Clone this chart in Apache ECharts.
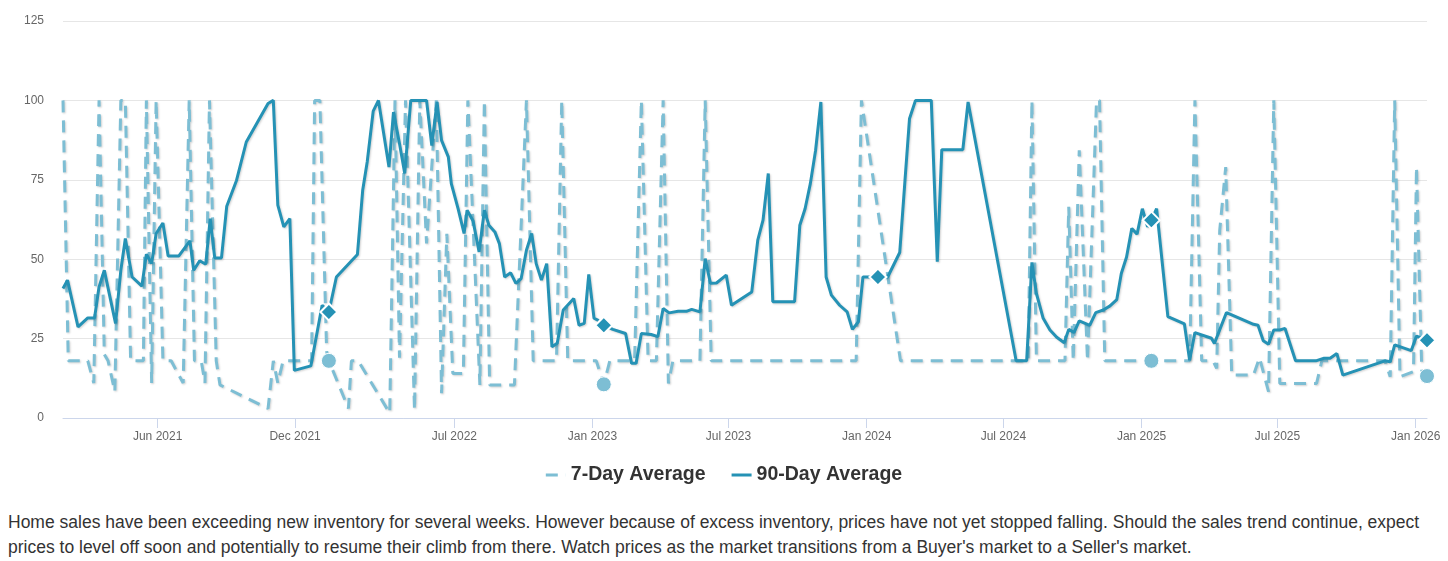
<!DOCTYPE html>
<html>
<head>
<meta charset="utf-8">
<script src="https://cdn.jsdelivr.net/npm/echarts@6/dist/echarts.min.js"></script>
<style>
  html, body { margin: 0; padding: 0; background: #fff; }
  #chart { width: 1448px; height: 500px; }
  #note { margin: 10px 8px 0 8px; font-family: 'Liberation Sans', Arial, sans-serif; font-size: 17.5px; line-height: 25px; color: #333; }
</style>
</head>
<body>
<div id="chart"></div>
<div id="note">Home sales have been exceeding new inventory for several weeks. However because of excess inventory, prices have not yet stopped falling. Should the sales trend continue, expect prices to level off soon and potentially to resume their climb from there. Watch prices as the market transitions from a Buyer's market to a Seller's market.</div>
<script>
// ---- data ----
const seriesNames = ['7-Day Average', '90-Day Average'];

const dates7 = ['2021-01-26','2021-02-02','2021-02-28','2021-03-08','2021-03-15','2021-03-22','2021-03-27','2021-04-05','2021-04-13','2021-04-19','2021-04-26','2021-05-13','2021-05-17','2021-05-24','2021-05-30','2021-06-08','2021-06-19','2021-07-05','2021-07-13','2021-07-20','2021-07-29','2021-08-03','2021-08-09','2021-08-18','2021-08-23','2021-10-26','2021-11-02','2021-11-08','2021-11-15','2021-12-23','2021-12-27','2022-01-03','2022-01-12','2022-01-15','2022-02-10','2022-02-14','2022-02-23','2022-04-06','2022-04-13','2022-04-19','2022-04-27','2022-05-09','2022-05-16','2022-05-25','2022-06-07','2022-06-14','2022-06-21','2022-06-29','2022-07-13','2022-07-19','2022-08-04','2022-08-10','2022-08-17','2022-09-19','2022-10-05','2022-10-14','2022-11-14','2022-11-21','2022-11-29','2023-01-06','2023-01-16','2023-01-24','2023-02-26','2023-03-07','2023-03-16','2023-03-27','2023-04-05','2023-04-12','2023-04-18','2023-05-24','2023-05-31','2023-06-08','2023-12-18','2023-12-25','2024-02-15','2024-08-03','2024-08-08','2024-08-14','2024-09-21','2024-09-26','2024-10-02','2024-10-10','2024-10-21','2024-11-02','2024-11-06','2024-11-13','2025-01-14','2025-03-06','2025-03-13','2025-03-22','2025-04-06','2025-04-11','2025-04-15','2025-04-23','2025-05-01','2025-05-30','2025-06-07','2025-06-19','2025-06-26','2025-07-04','2025-08-22','2025-08-29','2025-11-21','2025-11-28','2025-12-04','2025-12-11','2025-12-29','2026-01-02','2026-01-09','2026-01-16'];
const values7 = [100,18,18,11,100,20,18,8.3,100,100,18,18,100,11,100,18,18,11,100,18,18,11,100,18,10.4,3,18,11,18,18,100,100,21,18,3,18,18,1.5,100,19,100,2.5,100,55,100,7.8,58,14,14,100,10.4,100,10.4,10.4,100,18,18,100,18,18,10.6,18,18,100,18,18,100,10.9,18,18,100,18,18,100,18,18,100,18,18,66.5,18,84.3,18,100,100,18,18,18,100,18,18,15.6,59,79,13.5,13.5,19,8.3,100,10.9,10.9,18,18,13,100,13,14.6,79,15,13.2];

const dates90 = ['2021-01-26','2021-02-01','2021-02-15','2021-02-28','2021-03-09','2021-03-15','2021-03-22','2021-04-06','2021-04-13','2021-04-19','2021-04-28','2021-05-11','2021-05-17','2021-05-24','2021-05-30','2021-06-08','2021-06-15','2021-06-29','2021-07-14','2021-07-19','2021-07-27','2021-08-04','2021-08-10','2021-08-16','2021-08-25','2021-09-01','2021-09-14','2021-09-27','2021-10-26','2021-11-02','2021-11-08','2021-11-16','2021-11-24','2021-11-30','2021-12-22','2022-01-06','2022-01-15','2022-01-25','2022-02-22','2022-03-01','2022-03-07','2022-03-15','2022-03-22','2022-04-05','2022-04-11','2022-04-19','2022-04-26','2022-05-04','2022-05-25','2022-06-01','2022-06-08','2022-06-14','2022-06-23','2022-06-27','2022-07-06','2022-07-14','2022-07-18','2022-07-26','2022-08-03','2022-08-10','2022-08-16','2022-08-24','2022-08-30','2022-09-06','2022-09-14','2022-09-21','2022-09-28','2022-10-05','2022-10-12','2022-10-18','2022-10-25','2022-11-01','2022-11-08','2022-11-15','2022-11-23','2022-12-07','2022-12-14','2022-12-21','2022-12-27','2023-01-03','2023-01-08','2023-01-16','2023-01-28','2023-02-14','2023-02-22','2023-02-28','2023-03-07','2023-03-20','2023-03-29','2023-04-05','2023-04-13','2023-04-25','2023-05-06','2023-05-13','2023-05-24','2023-05-31','2023-06-07','2023-06-15','2023-06-28','2023-07-05','2023-08-01','2023-08-09','2023-08-16','2023-08-23','2023-08-29','2023-09-27','2023-10-04','2023-10-11','2023-10-18','2023-10-25','2023-11-01','2023-11-08','2023-11-15','2023-11-26','2023-12-06','2023-12-13','2023-12-21','2023-12-27','2024-01-03','2024-01-16','2024-01-29','2024-02-14','2024-02-21','2024-02-27','2024-03-06','2024-03-27','2024-04-04','2024-04-10','2024-05-08','2024-05-15','2024-07-18','2024-08-01','2024-08-08','2024-08-14','2024-08-23','2024-09-01','2024-09-10','2024-09-20','2024-09-26','2024-10-03','2024-10-10','2024-10-24','2024-11-01','2024-11-11','2024-11-20','2024-11-29','2024-12-05','2024-12-12','2024-12-19','2024-12-26','2025-01-02','2025-01-09','2025-01-14','2025-01-21','2025-02-05','2025-02-27','2025-03-06','2025-03-13','2025-04-04','2025-04-08','2025-04-24','2025-05-30','2025-06-05','2025-06-12','2025-06-19','2025-06-26','2025-07-04','2025-07-11','2025-07-25','2025-08-21','2025-09-01','2025-09-09','2025-09-18','2025-09-26','2025-11-21','2025-11-28','2025-12-04','2025-12-26','2026-01-02','2026-01-16'];
const values90 = [40.8,43.4,28.7,31.5,31.5,41.3,46.5,29.8,46.5,56.5,44.4,41.5,51.6,48.6,58.1,61.4,51,51,55.8,46.5,49.5,48.4,62.8,50.4,50.4,66.7,74.8,86.9,99,100,67,60.2,62.8,15,16.4,35.5,33.4,44.4,51.5,71.7,80.6,96.6,100,79,96.3,86.4,77,100,100,85.8,99.5,87.4,82.2,73.8,65.9,58.1,65.4,62,52.3,65.4,60.7,58.6,54.9,44.4,45.7,42.4,43.9,52.8,58.1,48.6,43.4,48.6,22.4,23.5,34,37.6,29.2,29.8,45.2,31.4,30.8,29.2,27.9,26.6,17.2,17.2,26.6,26.3,25.6,34.5,33.1,33.6,33.6,34.2,33.4,50.2,42.4,42.5,45,35.5,39.7,56,62.3,77,36.6,36.6,60.7,65.9,73.8,84.3,99.5,44.4,38.7,35.5,33.4,27.9,30.3,44.4,44.4,44.4,44.4,52.1,74.8,94.2,100,100,49.2,84.5,84.5,99.5,18,18,49,39.2,31.4,27.7,25.4,23.7,27.9,26.9,30.6,29.2,33.2,34,35.3,37.3,45.5,50.7,59.7,57.9,65.9,60.2,62.3,65.9,31.9,29.6,18.2,26.9,25.1,23.5,33.2,29.5,29.2,24.3,23.2,27.7,27.7,28.2,18,18,18.8,18.8,20.3,13.5,18,17.7,23,21.2,25.8,24.5];

const markerDates90 = ['2022-01-15','2023-01-16','2024-01-16','2025-01-14','2026-01-16'];
const markerDates7 = ['2022-01-15','2023-01-16','2025-01-14','2026-01-16'];

const xTickDates = ['2021-06-01','2021-12-01','2022-07-01','2023-01-01','2023-07-01','2024-01-01','2024-07-01','2025-01-01','2025-07-01','2026-01-01'];
const yTicks = [0, 25, 50, 75, 100, 125];
const monthNames = ['Jan','Feb','Mar','Apr','May','Jun','Jul','Aug','Sep','Oct','Nov','Dec'];

// ---- build ----
function ts(s) { const p = s.split('-').map(Number); return Date.UTC(p[0], p[1] - 1, p[2]); }

const C7 = '#7dbed4';
const C90 = '#2592b5';

const data7 = dates7.map((d, i) => markerDates7.includes(d)
  ? { value: [ts(d), values7[i]], symbol: 'circle', symbolSize: 15, itemStyle: { color: C7, borderColor: '#fff', borderWidth: 1 } }
  : [ts(d), values7[i]]);
const data90 = dates90.map((d, i) => markerDates90.includes(d)
  ? { value: [ts(d), values90[i]], symbol: 'diamond', symbolSize: 17, itemStyle: { color: C90, borderColor: '#fff', borderWidth: 2 } }
  : [ts(d), values90[i]]);

const tickTs = xTickDates.map(ts);

const chart = echarts.init(document.getElementById('chart'), null, { renderer: 'canvas' });
const font = "'Liberation Sans', Arial, sans-serif";
chart.setOption({
  animation: false,
  textStyle: { fontFamily: font },
  grid: { left: 63, right: 21, top: 21, bottom: 82 },
  legend: {
    bottom: 10,
    left: 'center',
    itemWidth: 20,
    itemHeight: 3,
    itemGap: 26,
    textStyle: { fontSize: 19.5, fontWeight: 'bold', color: '#333', fontFamily: font },
    data: [
      { name: seriesNames[0], icon: 'path://M0,0H12V3H0ZM19.9,0H20V3H19.9Z', itemStyle: { color: C7, opacity: 1 } },
      { name: seriesNames[1], icon: 'rect', itemStyle: { color: C90 } }
    ]
  },
  xAxis: {
    type: 'value',
    min: ts(dates90[0]),
    max: ts(dates90[dates90.length - 1]),
    axisLine: { lineStyle: { color: '#ccd6eb', width: 1 } },
    axisTick: { show: true, length: 10, lineStyle: { color: '#ccd6eb' }, customValues: tickTs },
    splitLine: { show: false },
    axisLabel: {
      customValues: tickTs,
      margin: 13,
      color: '#666',
      fontSize: 12,
      fontFamily: font,
      formatter: function (v) { const d = new Date(v); return monthNames[d.getUTCMonth()] + ' ' + d.getUTCFullYear(); }
    }
  },
  yAxis: {
    type: 'value',
    min: yTicks[0],
    max: yTicks[yTicks.length - 1],
    interval: 25,
    axisLine: { show: false },
    axisTick: { show: false },
    splitLine: { lineStyle: { color: '#e6e6e6', width: 1 } },
    axisLabel: { color: '#666', fontSize: 12, margin: 19, fontFamily: font }
  },
  series: [
    {
      name: seriesNames[0],
      type: 'line',
      data: data7,
      showSymbol: true,
      symbol: 'none',
      z: 2,
      color: C7,
      lineStyle: { color: C7, width: 3, type: [12, 8], shadowColor: 'rgba(0,0,0,0.18)', shadowBlur: 2, shadowOffsetX: 1, shadowOffsetY: 1 }
    },
    {
      name: seriesNames[1],
      type: 'line',
      data: data90,
      showSymbol: true,
      symbol: 'none',
      z: 3,
      color: C90,
      lineStyle: { color: C90, width: 3, shadowColor: 'rgba(0,0,0,0.18)', shadowBlur: 2, shadowOffsetX: 1, shadowOffsetY: 1 }
    }
  ]
});
</script>
</body>
</html>
